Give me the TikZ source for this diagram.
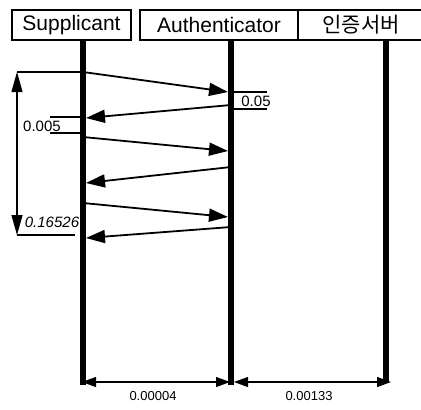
\documentclass[tikz,border=0pt]{standalone}
\usepackage{fontspec}
\setmainfont{Liberation Sans}
\newfontfamily\kofont{Noto Sans CJK KR}
\usetikzlibrary{backgrounds,arrows.meta}
\pgfdeclarelayer{edgelayer}
\pgfdeclarelayer{nodelayer}
\pgfsetlayers{edgelayer,nodelayer,main}
\tikzset{font=\fontsize{15}{17}\selectfont}
\tikzstyle{none}=[inner sep=0pt]
\tikzstyle{entity}=[draw,line width=2.5pt,minimum height=30pt,inner sep=0pt,font=\fontsize{21}{24}\selectfont]
\tikzstyle{life}=[line width=6pt]
\tikzstyle{msg}=[line width=1.8pt,-{Triangle[length=19pt,width=13pt]}]
\tikzstyle{vdim}=[line width=1.2pt,{Triangle[length=20pt,width=11pt]}-{Triangle[length=20pt,width=11pt]}]
\tikzstyle{hdim}=[line width=1.2pt,{Triangle[length=14pt,width=10pt]}-{Triangle[length=14pt,width=10pt]}]
\tikzstyle{tick}=[line width=1.2pt]
\tikzstyle{small}=[inner sep=0pt,font=\fontsize{13}{15}\selectfont]

\begin{document}
\begin{tikzpicture}[x=1pt,y=-1pt]
	\useasboundingbox (0,0) rectangle (421,410);
	\begin{pgfonlayer}{nodelayer}
		\node [style=entity, minimum width=119pt] (0) at (71.5, 25) {Supplicant};
		\node [style=entity, minimum width=158pt] (1) at (219, 25) {Authenticator};
		\node [style=entity, minimum width=126pt] (2) at (361, 25) {\kofont 인증서버};
		\node [style=none] (3) at (83, 40) {};
		\node [style=none] (4) at (83, 385) {};
		\node [style=none] (5) at (231, 40) {};
		\node [style=none] (6) at (231, 385) {};
		\node [style=none] (7) at (386, 40) {};
		\node [style=none] (8) at (386, 383) {};
		\node [style=none] (9) at (83, 72) {};
		\node [style=none] (10) at (228, 92) {};
		\node [style=none] (11) at (231, 105) {};
		\node [style=none] (12) at (86, 118) {};
		\node [style=none] (13) at (83, 137) {};
		\node [style=none] (14) at (228, 151) {};
		\node [style=none] (15) at (231, 167) {};
		\node [style=none] (16) at (86, 183) {};
		\node [style=none] (17) at (83, 203) {};
		\node [style=none] (18) at (228, 217) {};
		\node [style=none] (19) at (231, 227) {};
		\node [style=none] (20) at (86, 238) {};
		\node [style=none] (21) at (17, 72) {};
		\node [style=none] (22) at (17, 235) {};
		\node [style=none] (23) at (75, 235) {};
		\node [style=none, font=\fontsize{15}{17}\selectfont\itshape] (24) at (52, 222) {0.16526};
		\node [style=none] (25) at (50, 117) {};
		\node [style=none] (26) at (83, 117) {};
		\node [style=none] (27) at (50, 133) {};
		\node [style=none] (28) at (83, 133) {};
		\node [style=none] (29) at (42, 126) {0.005};
		\node [style=none] (30) at (231, 92) {};
		\node [style=none] (31) at (267, 92) {};
		\node [style=none] (32) at (231, 109) {};
		\node [style=none] (33) at (267, 109) {};
		\node [style=none] (34) at (256, 101) {0.05};
		\node [style=none] (35) at (82, 382) {};
		\node [style=none] (36) at (230, 382) {};
		\node [style=none] (37) at (234, 382) {};
		\node [style=none] (38) at (391, 382) {};
		\node [style=small] (39) at (153, 396) {0.00004};
		\node [style=small] (40) at (309, 396) {0.00133};
	\end{pgfonlayer}
	\begin{pgfonlayer}{edgelayer}
		\draw [style=life] (3.center) to (4.center);
		\draw [style=life] (5.center) to (6.center);
		\draw [style=life] (7.center) to (8.center);
		\draw [style=msg] (9.center) to (10.center);
		\draw [style=msg] (11.center) to (12.center);
		\draw [style=msg] (13.center) to (14.center);
		\draw [style=msg] (15.center) to (16.center);
		\draw [style=msg] (17.center) to (18.center);
		\draw [style=msg] (19.center) to (20.center);
		\draw [style=tick] (21.center) to (9.center);
		\draw [style=tick] (22.center) to (23.center);
		\draw [style=vdim] (21.center) to (22.center);
		\draw [style=tick] (25.center) to (26.center);
		\draw [style=tick] (27.center) to (28.center);
		\draw [style=tick] (30.center) to (31.center);
		\draw [style=tick] (32.center) to (33.center);
		\draw [style=hdim] (35.center) to (36.center);
		\draw [style=hdim] (37.center) to (38.center);
	\end{pgfonlayer}
\end{tikzpicture}
\end{document}
